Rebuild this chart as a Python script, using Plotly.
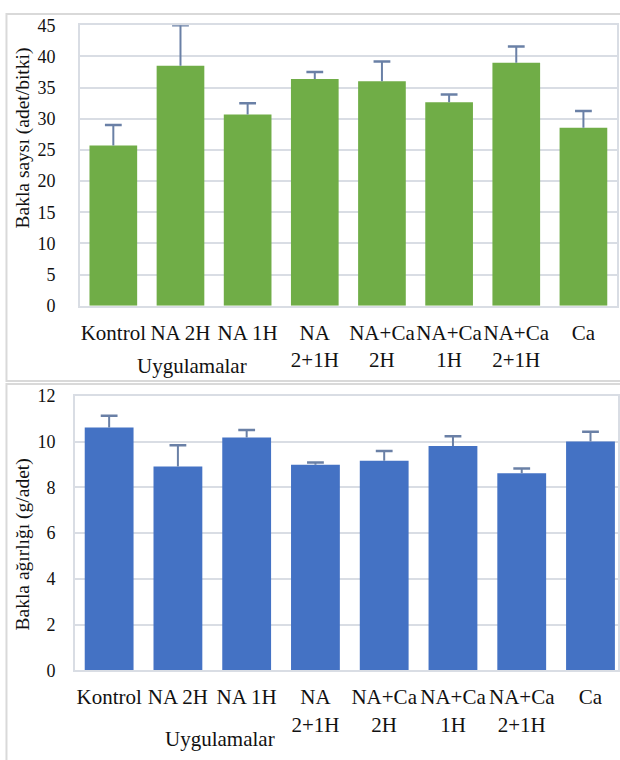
import plotly.graph_objects as go

categories = ["Kontrol", "NA 2H", "NA 1H", "NA<br>2+1H", "NA+Ca<br>2H", "NA+Ca<br>1H", "NA+Ca<br>2+1H", "Ca"]
pod_count = [25.7, 38.5, 30.7, 36.4, 36.0, 32.65, 39.0, 28.55]
pod_count_err = [3.3, 6.5, 1.8, 1.1, 3.2, 1.25, 2.6, 2.7]
pod_weight = [10.62, 8.91, 10.18, 8.99, 9.16, 9.81, 8.62, 10.01]
pod_weight_err = [0.51, 0.93, 0.33, 0.10, 0.43, 0.43, 0.21, 0.42]
x_title = "Uygulamalar"
y1_title = "Bakla saysı (adet/bitki)"
y2_title = "Bakla ağırlığı (g/adet)"

W, H = 620, 760
FONT = "'Liberation Serif', 'Times New Roman', Times, serif"
TXT = "#111111"
GRID = "#d9dde4"
ERR = "#6a80a6"

def px(y):
    return 1 - y / H

fig = go.Figure()


def add_series(vals, errs, color, xa, ya):
    fig.add_trace(go.Bar(x=categories, y=vals, marker=dict(color=color, line=dict(width=0)),
                         xaxis=xa, yaxis=ya, showlegend=False))
    sx, sy = [], []
    for c, v, e in zip(categories, vals, errs):
        sx += [c, c, None]
        sy += [v, v + e, None]
    fig.add_trace(go.Scatter(x=sx, y=sy, mode="lines", line=dict(color=ERR, width=2),
                             xaxis=xa, yaxis=ya, showlegend=False, hoverinfo="skip"))
    fig.add_trace(go.Scatter(x=categories, y=[v + e for v, e in zip(vals, errs)], mode="markers",
                             marker=dict(symbol="line-ew", size=12, line=dict(color=ERR, width=2.5)),
                             xaxis=xa, yaxis=ya, showlegend=False, hoverinfo="skip"))


add_series(pod_count, pod_count_err, "#70ad47", "x", "y")
add_series(pod_weight, pod_weight_err, "#4472c4", "x2", "y2")

axis_common = dict(showline=True, mirror=True, linecolor=GRID, linewidth=1.5, tickangle=0,
                   tickfont=dict(family=FONT, size=21, color=TXT))
yfont = dict(family=FONT, size=18, color=TXT)

fig.update_layout(
    width=W, height=H, margin=dict(l=0, r=0, t=0, b=0),
    paper_bgcolor="white", plot_bgcolor="white", bargap=0.29,
    font=dict(family=FONT, color=TXT),
    xaxis=dict(domain=[80 / W, 619 / W], anchor="y", type="category", range=[-0.5, 7.5],
               ticks="outside", ticklen=7, tickcolor="rgba(0,0,0,0)", showgrid=False, **axis_common),
    yaxis=dict(domain=[px(303.7), px(15.7)], anchor="x", range=[0, 45], dtick=5,
               showgrid=True, gridcolor=GRID, gridwidth=2, zeroline=False,
               ticks="outside", ticklen=19, tickcolor="rgba(0,0,0,0)",
               showline=True, mirror=True, linecolor=GRID, linewidth=1.5, tickfont=yfont),
    xaxis2=dict(domain=[75 / W, 1.0], anchor="y2", type="category", range=[-0.5, 7.4],
                ticks="outside", ticklen=7, tickcolor="rgba(0,0,0,0)", showgrid=False, **axis_common),
    yaxis2=dict(domain=[px(678.3), px(396.3)], anchor="x2", range=[0, 12], dtick=2,
                showgrid=True, gridcolor=GRID, gridwidth=2, zeroline=False,
                ticks="outside", ticklen=14, tickcolor="rgba(0,0,0,0)",
                showline=True, mirror=True, linecolor=GRID, linewidth=1.5, tickfont=yfont),
)

ann_font = dict(family=FONT, size=21, color=TXT)
ytitle_font = dict(family=FONT, size=19.5, color=TXT)
fig.add_annotation(text=x_title, x=193 / W, y=px(366), xref="paper", yref="paper",
                   showarrow=False, font=ann_font, xanchor="center", yanchor="middle")
fig.add_annotation(text=x_title, x=221 / W, y=px(749), xref="paper", yref="paper",
                   showarrow=False, font=ann_font, xanchor="center", yanchor="middle")
fig.add_annotation(text=y1_title, x=23 / W, y=px(131), xref="paper", yref="paper", textangle=-90,
                   showarrow=False, font=ytitle_font, xanchor="center", yanchor="middle")
fig.add_annotation(text=y2_title, x=23 / W, y=px(549), xref="paper", yref="paper", textangle=-90,
                   showarrow=False, font=ytitle_font, xanchor="center", yanchor="middle")

# chart-area frames
fig.add_shape(type="rect", xref="paper", yref="paper", x0=6.5 / W, x1=1.02, y0=px(381), y1=px(4),
              line=dict(color="#d9d9d9", width=2), layer="below")
fig.add_shape(type="rect", xref="paper", yref="paper", x0=6.5 / W, x1=1.02, y0=-0.02, y1=px(384),
              line=dict(color="#d9d9d9", width=2), layer="below")

fig.write_html("out.html", config={"displayModeBar": False},
               post_script="document.body.style.margin='0px';")
